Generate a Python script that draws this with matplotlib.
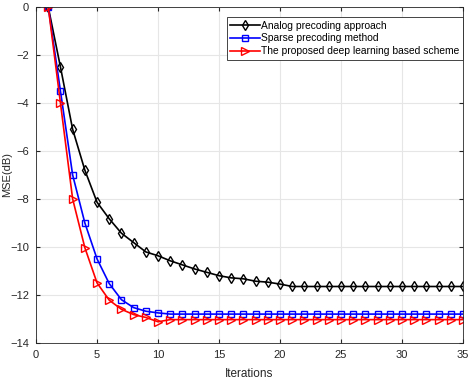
import numpy as np
import matplotlib.pyplot as plt

plt.rcParams['font.family'] = ['Liberation Sans', 'DejaVu Sans']

iters = list(range(1, 36))
analog = [0, -2.5, -5.1, -6.8, -8.14, -8.83, -9.43, -9.82, -10.21, -10.37,
          -10.58, -10.75, -10.92, -11.06, -11.2, -11.29, -11.33, -11.43, -11.47, -11.55] + [-11.65] * 15
sparse = [0, -3.5, -7.0, -9.0, -10.5, -11.53, -12.2, -12.53, -12.68, -12.75] + [-12.8] * 25
proposed = [0, -4.0, -8.0, -10.03, -11.5, -12.22, -12.6, -12.82, -12.94, -13.12] + [-13.03] * 25
labels = ['Analog precoding approach', 'Sparse precoding method',
          'The proposed deep learning based scheme']

fig = plt.figure(figsize=(4.74, 3.81), dpi=100)
ax = fig.add_axes([0.076, 0.10, 0.901, 0.882])

ax.plot(iters, analog, '-kd', mfc='none', ms=5.5, lw=1.2, mew=1.0, label=labels[0])
ax.plot(iters, sparse, '-bs', mfc='none', ms=5, lw=1.2, mew=1.0, label=labels[1])
ax.plot(iters, proposed, '->', color='red', mfc='none', ms=5.5, lw=1.2, mew=1.0, label=labels[2])

ax.set_xlim(0, 35)
ax.set_ylim(-14, 0)
ax.set_xticks(np.arange(0, 36, 5))
ax.set_yticks(np.arange(-14, 1, 2))
ax.grid(True, color='#e6e6e6', lw=0.8)
ax.set_axisbelow(True)
ax.tick_params(direction='in', top=True, right=True, labelsize=8, colors='#262626', length=3, pad=5)
for s in ax.spines.values():
    s.set_color('#262626')
    s.set_linewidth(0.6)
ax.set_xlabel('Iterations', fontsize=8.5, color='#262626')
ax.set_ylabel('MSE(dB)', fontsize=8, color='#262626')
ax.xaxis.set_label_coords(0.5, -0.075)
ax.yaxis.set_label_coords(-0.057, 0.5)

leg = ax.legend(loc='upper right', bbox_to_anchor=(1.0, 0.97), fontsize=7.4, frameon=True,
                fancybox=False, edgecolor='#262626', framealpha=1, handlelength=2.9,
                handletextpad=0.1, borderpad=0.35, labelspacing=0.28, borderaxespad=0.0)
leg.get_frame().set_linewidth(0.6)

fig.savefig('out.png', dpi=100)
